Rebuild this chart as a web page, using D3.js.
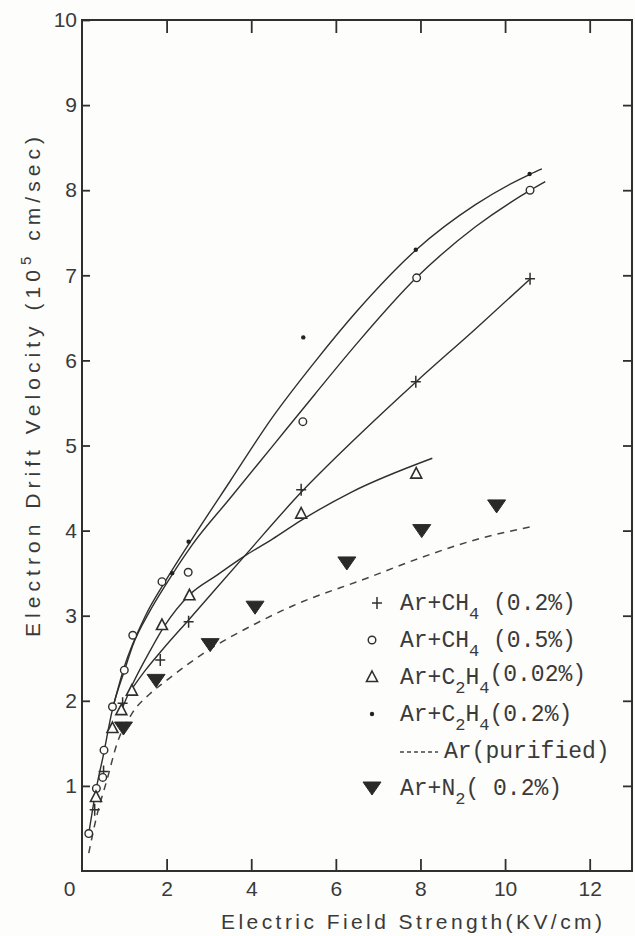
<!DOCTYPE html>
<html lang="en">
<head>
    <meta charset="UTF-8">
    <title>Electron Drift Velocity</title>
    <script src="https://d3js.org/d3.v7.min.js"></script>
    <style>
        body { margin: 0; background: #fdfdfb; }
        svg { display: block; }
        .tick text { font: 21px "Liberation Sans", Arial, sans-serif; fill: #3a3a3a; }
        .legend text { font-family: "Liberation Mono", "Courier New", monospace; fill: #3a3a3a; }
    </style>
</head>
<body>
<script>
    const width = 635;
    const height = 936;

    // measured points, field strength (kV/cm) vs velocity (1e5 cm/s)
    const ch4lowX = [0.3, 0.51, 0.96, 1.85, 2.52, 5.18, 7.89, 10.59];
    const ch4lowY = [0.72, 1.17, 1.97, 2.48, 2.93, 4.48, 5.75, 6.96];

    const ch4highX = [0.16, 0.34, 0.49, 0.52, 0.72, 1.0, 1.2, 1.89, 2.51, 5.22, 7.91, 10.59];
    const ch4highY = [0.44, 0.97, 1.1, 1.42, 1.93, 2.36, 2.77, 3.40, 3.51, 5.28, 6.97, 8.0];

    const c2h4lowX = [0.33, 0.72, 0.93, 1.18, 1.89, 2.54, 5.18, 7.9];
    const c2h4lowY = [0.87, 1.68, 1.89, 2.12, 2.89, 3.24, 4.20, 4.67];

    const c2h4highX = [2.13, 2.52, 5.23, 7.89, 10.58];
    const c2h4highY = [3.50, 3.87, 6.27, 7.30, 8.19];

    const n2X = [0.98, 1.75, 3.03, 4.09, 6.26, 8.03, 9.8];
    const n2Y = [1.68, 2.24, 2.66, 3.10, 3.62, 4.0, 4.29];

    // hand-drawn fitted curves
    const fitCh4low = [[1.15, 2.12], [1.5, 2.36], [1.9, 2.6], [2.52, 2.95], [3.84, 3.7], [5.18, 4.45],
        [6.5, 5.1], [7.9, 5.75], [9.3, 6.37], [10.6, 6.96]];
    const fitCh4high = [[0.16, 0.44], [0.33, 0.95], [0.5, 1.35], [0.72, 1.9], [1.0, 2.35], [1.2, 2.65],
        [1.6, 3.05], [2.0, 3.38], [2.6, 3.83], [3.5, 4.38], [4.5, 4.99], [5.5, 5.6], [6.5, 6.2],
        [7.9, 6.97], [9.3, 7.57], [10.6, 8.0], [10.95, 8.1]];
    const fitC2h4low = [[0.9, 1.85], [1.2, 2.2], [1.6, 2.58], [1.95, 2.88], [2.55, 3.25], [3.2, 3.48],
        [3.84, 3.7], [4.5, 3.9], [5.18, 4.12], [6.36, 4.45], [8.28, 4.85]];
    const fitC2h4high = [[0.72, 1.9], [1.0, 2.4], [1.5, 3.0], [2.0, 3.43], [2.6, 3.9], [3.5, 4.58],
        [4.5, 5.33], [5.5, 5.98], [6.5, 6.58], [7.9, 7.3], [9.3, 7.83], [10.6, 8.19], [10.87, 8.25]];
    const arPure = [[0.16, 0.21], [0.35, 0.65], [0.59, 1.07], [0.83, 1.5], [1.18, 1.85], [1.6, 2.08],
        [2.0, 2.24], [3.0, 2.6], [4.0, 2.88], [5.0, 3.12], [6.73, 3.44], [8.0, 3.68], [9.5, 3.92], [10.67, 4.05]];

    const xTicks = [0, 2, 4, 6, 8, 10, 12];
    const yTicks = [1, 2, 3, 4, 5, 6, 7, 8, 9, 10];

    const x = d3.scaleLinear().domain([0, 13]).range([82, 632]);
    const y = d3.scaleLinear().domain([0, 10]).range([871, 20]);

    const svg = d3.select("body").append("svg")
        .attr("width", width)
        .attr("height", height);

    const ink = "#2f2f2f";

    // frame
    svg.append("rect")
        .attr("x", x(0)).attr("y", y(10))
        .attr("width", x(13) - x(0)).attr("height", y(0) - y(10))
        .attr("fill", "none").attr("stroke", ink).attr("stroke-width", 2);

    function styleAxis(g) {
        g.select(".domain").remove();
        g.selectAll(".tick line").attr("stroke", ink).attr("stroke-width", 1.8);
    }

    svg.append("g")
        .attr("transform", `translate(0,${y(0)})`)
        .call(d3.axisBottom(x).tickValues(xTicks).tickSize(-12).tickPadding(10).tickFormat(d3.format("d")))
        .call(styleAxis)
        .call(g => g.selectAll(".tick").filter(d => d === 0).select("line").remove())
        .call(g => g.selectAll(".tick").filter(d => d === 0).select("text").attr("dx", -13));

    svg.append("g")
        .attr("transform", `translate(0,${y(10)})`)
        .call(d3.axisTop(x).tickValues(xTicks.slice(1)).tickSize(-13).tickFormat(""))
        .call(styleAxis);

    svg.append("g")
        .attr("transform", `translate(${x(0)},0)`)
        .call(d3.axisLeft(y).tickValues(yTicks).tickSize(-8).tickPadding(5).tickFormat(d3.format("d")))
        .call(styleAxis);

    svg.append("g")
        .attr("transform", `translate(${x(13)},0)`)
        .call(d3.axisRight(y).tickValues(yTicks.slice(0, -1)).tickSize(-9).tickFormat(""))
        .call(styleAxis);

    // axis titles
    svg.append("text")
        .attr("x", 221).attr("y", 929)
        .attr("textLength", 381).attr("lengthAdjust", "spacing")
        .style("font", "21px 'Liberation Sans', Arial, sans-serif")
        .attr("fill", "#3a3a3a")
        .text("Electric Field Strength(KV/cm)");

    const yt = svg.append("text")
        .attr("transform", "translate(40,637) rotate(-90)")
        .style("font", "21px 'Liberation Sans', Arial, sans-serif")
        .attr("fill", "#3a3a3a")
        .attr("textLength", 500).attr("lengthAdjust", "spacing");
    yt.append("tspan").text("Electron Drift Velocity (10");
    yt.append("tspan").attr("dy", -9).style("font-size", "15px").text("5");
    yt.append("tspan").attr("dy", 9).text(" cm/sec)");

    // curves
    const line = d3.line().x(d => x(d[0])).y(d => y(d[1])).curve(d3.curveMonotoneX);
    const plot = svg.append("g");
    [fitCh4low, fitCh4high, fitC2h4low, fitC2h4high].forEach(pts => {
        plot.append("path").attr("d", line(pts))
            .attr("fill", "none").attr("stroke", ink).attr("stroke-width", 1.4);
    });
    plot.append("path").attr("d", line(arPure))
        .attr("fill", "none").attr("stroke", "#444").attr("stroke-width", 1.5)
        .attr("stroke-dasharray", "7,6");

    // marker painters
    const markers = {
        cross: (g, px, py) => g.append("path")
            .attr("d", `M${px - 5},${py}H${px + 5}M${px},${py - 6}V${py + 6}`)
            .attr("stroke", ink).attr("stroke-width", 1.5).attr("fill", "none"),
        circle: (g, px, py) => g.append("circle").attr("cx", px).attr("cy", py).attr("r", 3.8)
            .attr("fill", "#fdfdfb").attr("stroke", ink).attr("stroke-width", 1.4),
        tri: (g, px, py) => g.append("path")
            .attr("d", `M${px},${py - 6}L${px + 5.5},${py + 4.5}L${px - 5.5},${py + 4.5}Z`)
            .attr("fill", "#fdfdfb").attr("stroke", ink).attr("stroke-width", 1.6),
        dot: (g, px, py) => g.append("circle").attr("cx", px).attr("cy", py).attr("r", 2.2).attr("fill", "#222"),
        down: (g, px, py) => g.append("path")
            .attr("d", `M${px - 9},${py - 6}L${px + 9},${py - 6}L${px},${py + 7}Z`)
            .attr("fill", "#2a2a2a").attr("stroke", "#2a2a2a").attr("stroke-width", 1).attr("stroke-linejoin", "round")
    };

    function drawPoints(xs, ys, kind) {
        xs.forEach((v, i) => markers[kind](plot, x(v), y(ys[i])));
    }
    drawPoints(ch4lowX, ch4lowY, "cross");
    drawPoints(ch4highX, ch4highY, "circle");
    drawPoints(c2h4lowX, c2h4lowY, "tri");
    drawPoints(c2h4highX, c2h4highY, "dot");
    drawPoints(n2X, n2Y, "down");

    // legend
    const legendItems = [
        { kind: "cross", parts: [["Ar+CH", 0], ["4", 1], [" (0.2%)", 0]] },
        { kind: "circle", parts: [["Ar+CH", 0], ["4", 1], [" (0.5%)", 0]] },
        { kind: "tri", parts: [["Ar+C", 0], ["2", 1], ["H", 0], ["4", 1], ["(0.02%)", -1]] },
        { kind: "dot", parts: [["Ar+C", 0], ["2", 1], ["H", 0], ["4", 1], ["(0.2%)", 0]] },
        { kind: "dash", parts: [["Ar(purified)", 0]] },
        { kind: "down", parts: [["Ar+N", 0], ["2", 1], ["( 0.2%)", 0]] }
    ];

    const legend = svg.append("g").attr("class", "legend");
    legendItems.forEach((item, i) => {
        const cy = 603 + i * 37;
        if (item.kind === "dash") {
            legend.append("line").attr("x1", 400).attr("x2", 438).attr("y1", cy + 1).attr("y2", cy + 1)
                .attr("stroke", "#444").attr("stroke-width", 1.3).attr("stroke-dasharray", "4,3");
        } else {
            markers[item.kind](legend, item.kind === "cross" ? 377 : 372, cy);
        }
        const t = legend.append("text")
            .attr("x", item.kind === "dash" ? 444 : 400)
            .attr("y", cy + 7)
            .style("font-size", "23px");
        let shift = 0;
        item.parts.forEach(([s, sub]) => {
            const target = sub === 1 ? 9 : sub === -1 ? -3 : 0;
            t.append("tspan")
                .attr("dy", target - shift)
                .style("font-size", sub === 1 ? "17px" : "23px")
                .text(s);
            shift = target;
        });
    });
</script>
</body>
</html>
